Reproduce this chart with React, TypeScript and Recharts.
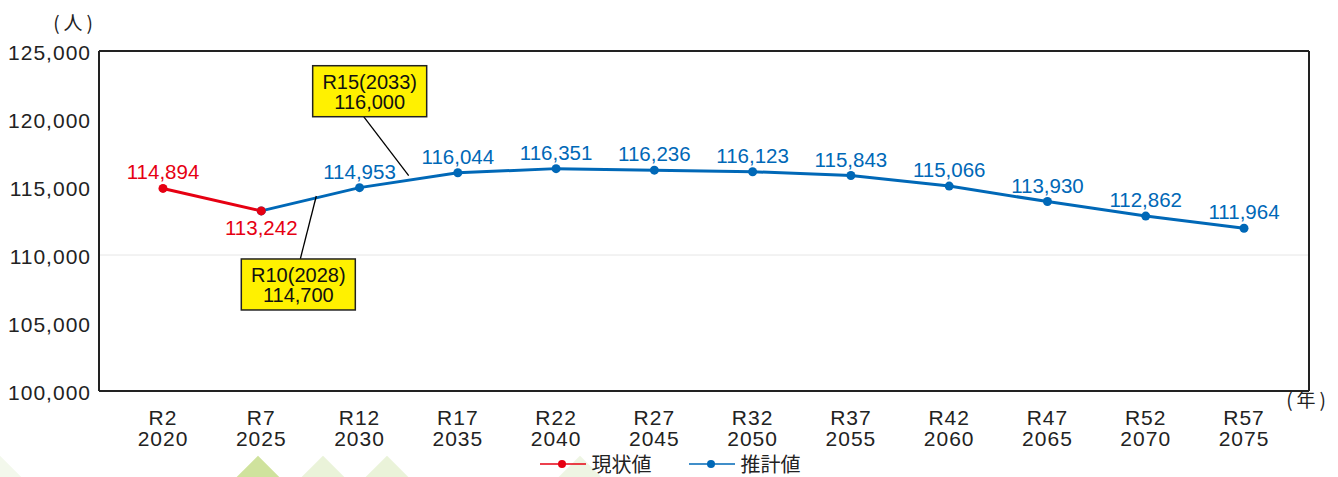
import {
  LineChart,
  Line,
  XAxis,
  YAxis,
  ReferenceLine,
  ReferenceDot,
  LabelList,
  Legend,
} from "recharts";

const years = [2020, 2025, 2030, 2035, 2040, 2045, 2050, 2055, 2060, 2065, 2070, 2075];
const eraLabels = ["R2", "R7", "R12", "R17", "R22", "R27", "R32", "R37", "R42", "R47", "R52", "R57"];
const actual = [114894, 113242, null, null, null, null, null, null, null, null, null, null];
const estimate = [null, 113242, 114953, 116044, 116351, 116236, 116123, 115843, 115066, 113930, 112862, 111964];
const yTicks = [100000, 105000, 110000, 115000, 120000, 125000];

// callouts: where the pointer touches the line, and what the box says
const callouts = [
  { x: 2027.8, y: 114340, title: "R10(2028)", value: "114,700", below: true },
  { x: 2032.5, y: 115830, title: "R15(2033)", value: "116,000", below: false },
];

const RED = "#e60012";
const BLUE = "#0068b7";
const INK = "#222";
const LATIN = "'Liberation Sans', Arial, Helvetica, sans-serif";
const CJK = "'Noto Sans CJK JP', 'Noto Sans', sans-serif";

const data = years.map((year, i) => ({
  year,
  era: eraLabels[i],
  actual: actual[i],
  estimate: estimate[i],
}));

const fmt = (v: number) => v.toLocaleString("en-US");

function EraTick(props: any) {
  const { x, y, payload } = props;
  const i = years.indexOf(payload.value);
  return (
    <text x={x} y={y} textAnchor="middle" fill={INK} fontFamily={LATIN} fontSize={21} letterSpacing={1}>
      <tspan x={x} dy={26}>{eraLabels[i]}</tspan>
      <tspan x={x} dy={20.5}>{payload.value}</tspan>
    </text>
  );
}

function ValueTick(props: any) {
  const { x, y, payload } = props;
  return (
    <text x={x} y={y} dy={8.5} textAnchor="end" fill={INK} fontFamily={LATIN} fontSize={21} letterSpacing={1}>
      {fmt(payload.value)}
    </text>
  );
}

function ActualLabel(props: any) {
  const { x, y, value, index } = props;
  if (value == null) return null;
  const below = index === 1;
  return (
    <text x={x} y={below ? y + 24.5 : y - 9} textAnchor="middle" fill={RED} fontFamily={LATIN} fontSize={20.5}>
      {fmt(value)}
    </text>
  );
}

function EstimateLabel(props: any) {
  const { x, y, value, index } = props;
  if (value == null || index === 1) return null;
  return (
    <text x={x} y={y - 9} textAnchor="middle" fill={BLUE} fontFamily={LATIN} fontSize={20.5}>
      {fmt(value)}
    </text>
  );
}

function Callout(props: any) {
  const { cx, cy, c } = props;
  const w = 114;
  const h = 51;
  const left = c.below ? cx - 75 : cx - 96;
  const top = c.below ? cy + 63 : cy - 110;
  const px = c.below ? cx - 16 : cx - 45;
  const py = c.below ? top : top + h;
  return (
    <g>
      <line x1={px} y1={py} x2={cx} y2={cy} stroke="#000" strokeWidth={1.3} />
      <rect x={left} y={top} width={w} height={h} fill="#fff100" stroke={INK} strokeWidth={1.5} />
      <text x={left + w / 2} y={top + 23} textAnchor="middle" fill="#111" fontFamily={LATIN} fontSize={20}>
        {c.title}
      </text>
      <text x={left + w / 2} y={top + 43.5} textAnchor="middle" fill="#111" fontFamily={LATIN} fontSize={20}>
        {c.value}
      </text>
    </g>
  );
}

function LegendContent() {
  const item = (color: string, text: string, gap: number) => (
    <div style={{ display: "flex", alignItems: "center", marginLeft: gap }}>
      <svg width={46} height={10}>
        <line x1={0} y1={5} x2={46} y2={5} stroke={color} strokeWidth={1.5} />
        <circle cx={22} cy={5} r={4} fill={color} />
      </svg>
      <span style={{ marginLeft: 6, fontFamily: CJK, fontSize: 20, color: INK, lineHeight: "26px" }}>{text}</span>
    </div>
  );
  return (
    <div style={{ display: "flex", justifyContent: "center", height: 26, paddingLeft: 30 }}>
      {item(RED, "現状値", 0)}
      {item(BLUE, "推計値", 37)}
    </div>
  );
}

function Diamond({ x, color }: { x: number; color: string }) {
  return (
    <div
      style={{
        position: "absolute",
        left: x - 20,
        top: 464,
        width: 40,
        height: 40,
        background: color,
        transform: "rotate(45deg)",
      }}
    />
  );
}

export default function App() {
  return (
    <div
      style={{
        position: "absolute",
        left: 0,
        top: 0,
        width: 1338,
        height: 477,
        overflow: "hidden",
        background: "#fff",
      }}
    >
      <Diamond x={0} color="#f3f8ec" />
      <Diamond x={258} color="#cfe29d" />
      <Diamond x={322.5} color="#eaf3d9" />
      <Diamond x={386.5} color="#eaf3d9" />
      <Diamond x={580} color="#eef5e3" />
      <div style={{ position: "absolute", left: 0, top: 0 }}>
        <LineChart width={1338} height={477} data={data} margin={{ top: 50, right: 28, bottom: 0, left: 0 }}>
          <XAxis
            dataKey="year"
            type="number"
            domain={[2020, 2075]}
            ticks={years}
            padding={{ left: 64, right: 65 }}
            height={60}
            tick={<EraTick />}
            tickLine={false}
            axisLine={{ stroke: INK, strokeWidth: 2 }}
            interval={0}
            label={{
              content: () => (
                <text x={1330} y={407} textAnchor="end" fill={INK} fontFamily={CJK} fontSize={19} letterSpacing={4}>
                  (年)
                </text>
              ),
            }}
          />
          <XAxis
            xAxisId="top"
            orientation="top"
            dataKey="year"
            type="number"
            domain={[2020, 2075]}
            padding={{ left: 64, right: 65 }}
            height={1}
            tick={false}
            tickLine={false}
            axisLine={{ stroke: INK, strokeWidth: 2 }}
          />
          <YAxis
            domain={[100000, 125000]}
            ticks={yTicks}
            width={99}
            tick={<ValueTick />}
            tickLine={false}
            axisLine={{ stroke: INK, strokeWidth: 2 }}
            interval={0}
            label={{
              content: () => (
                <text x={97} y={30} textAnchor="end" fill={INK} fontFamily={CJK} fontSize={19} letterSpacing={4}>
                  (人)
                </text>
              ),
            }}
          />
          <YAxis
            yAxisId="right"
            orientation="right"
            domain={[100000, 125000]}
            width={1}
            tick={false}
            tickLine={false}
            axisLine={{ stroke: INK, strokeWidth: 2 }}
          />
          <ReferenceLine y={110000} stroke="#e6e6e6" strokeWidth={1} />
          <Line
            dataKey="estimate"
            stroke={BLUE}
            strokeWidth={3}
            dot={{ r: 4.5, fill: BLUE, stroke: BLUE, strokeWidth: 0 }}
            activeDot={false}
            isAnimationActive={false}
          >
            <LabelList dataKey="estimate" content={<EstimateLabel />} />
          </Line>
          <Line
            dataKey="actual"
            stroke={RED}
            strokeWidth={3}
            dot={{ r: 4.5, fill: RED, stroke: RED, strokeWidth: 0 }}
            activeDot={false}
            isAnimationActive={false}
          >
            <LabelList dataKey="actual" content={<ActualLabel />} />
          </Line>
          {callouts.map((c) => (
            <ReferenceDot
              key={c.title}
              x={c.x}
              y={c.y}
              ifOverflow="visible"
              shape={(p: any) => <Callout {...p} c={c} />}
            />
          ))}
          <Legend verticalAlign="bottom" content={<LegendContent />} wrapperStyle={{ bottom: 0 }} />
        </LineChart>
      </div>
    </div>
  );
}
